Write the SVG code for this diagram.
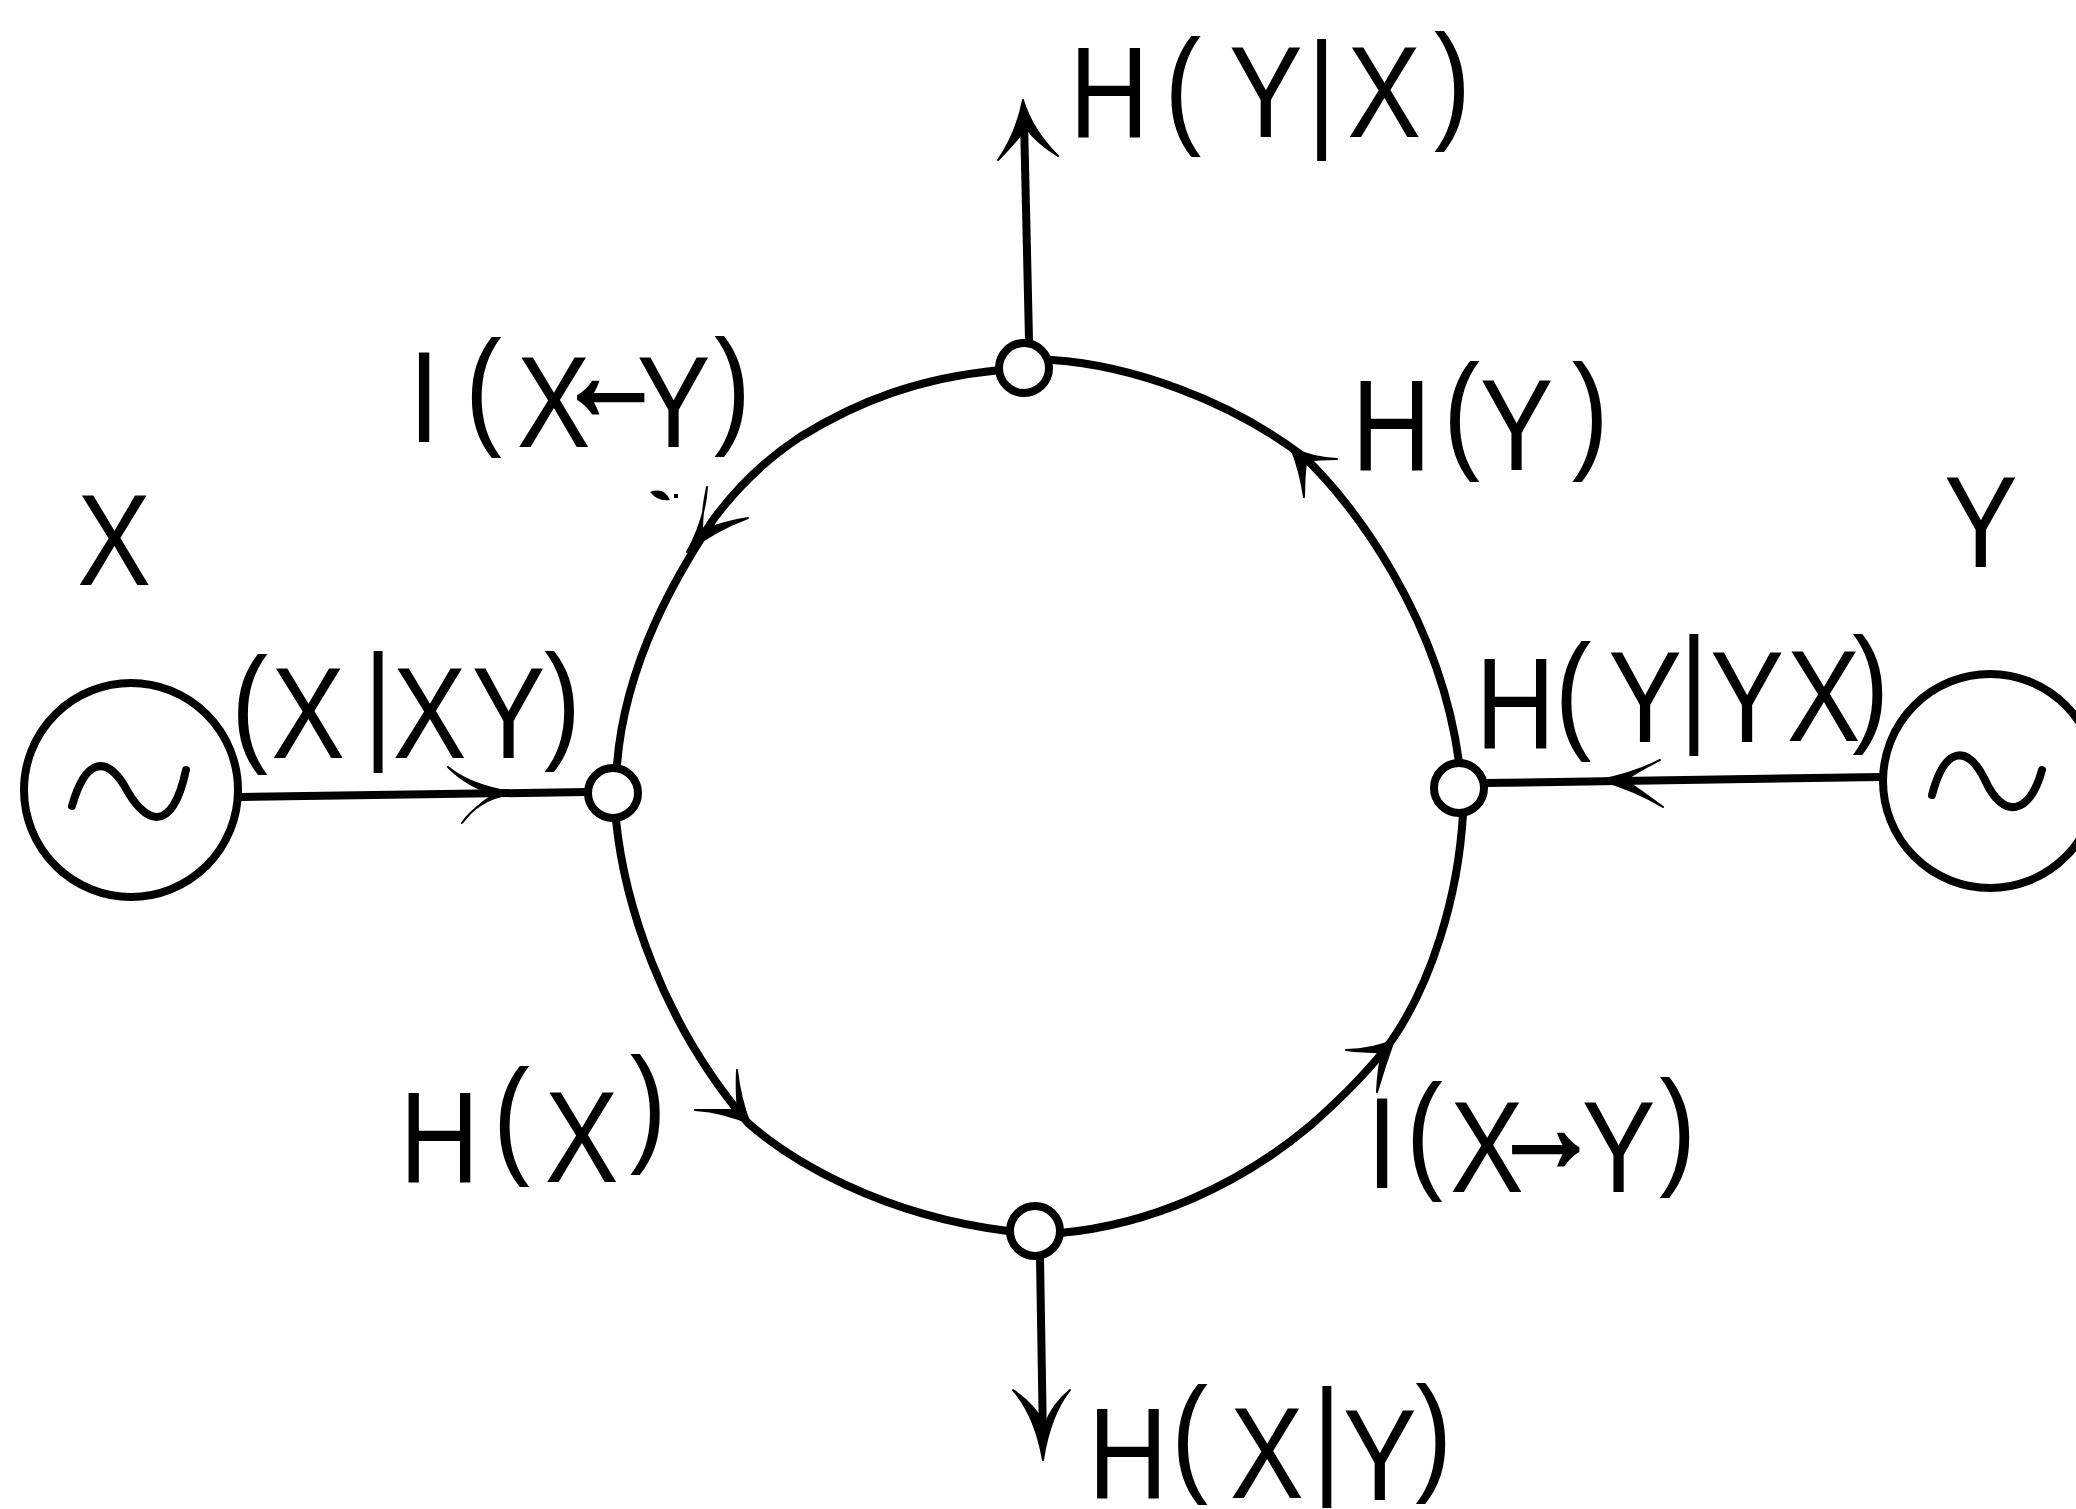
<svg xmlns="http://www.w3.org/2000/svg" width="2076" height="1509" viewBox="0 0 2076 1509">
<style>
.c{fill:none;stroke:#000;stroke-width:8;stroke-linecap:round;stroke-linejoin:round}
.w{fill:#000;stroke:#000;stroke-width:2;stroke-linejoin:round}
.n{fill:#fff;stroke:#000;stroke-width:8}
text{font-family:"Liberation Sans",Arial,sans-serif;font-size:130px;fill:#000}
.a{font-size:127px;stroke:#000;stroke-width:4px}
</style>
<rect width="2076" height="1509" fill="#fff"/>
<g id="connectors">
<path class="c" d="M1029 340L1024 120"/>
<path class="w" d="M998 160Q1016 135 1023 100Q1032 130 1058 156Q1037 143 1026 128Q1015 143 998 160z"/>
<path class="c" d="M1052 360C1130 365 1230 400 1304 457C1355 505 1440 620 1459 762"/>
<path class="w" d="M1337 459Q1312 458 1291 448Q1300 470 1304 497Q1304 478 1306 461Q1320 459 1337 459z"/>
<path class="c" d="M1000 370C920 378 860 400 800 437C765 460 735 490 713 520C680 570 625 660 617 765"/>
<path class="w" d="M707 487Q705 520 687 552Q715 530 748 518Q722 522 702 531Q702 510 707 487z"/>
<path class="c" d="M616 820C624 900 660 1020 748 1123C790 1160 880 1215 1008 1231"/>
<path class="w" d="M695 1110Q725 1112 750 1124Q740 1098 737 1070Q736 1092 738 1110Q718 1110 695 1110z"/>
<path class="c" d="M1060 1233C1150 1225 1240 1185 1311 1125C1345 1095 1370 1070 1392 1040C1430 985 1458 900 1463 814"/>
<path class="w" d="M1346 1050Q1372 1050 1394 1040Q1385 1065 1377 1092Q1378 1070 1382 1052Q1362 1052 1346 1050z"/>
<path class="c" d="M1040 1258L1043 1440"/>
<path class="w" d="M1013 1390Q1035 1415 1043 1460Q1050 1415 1070 1390Q1052 1405 1045 1425Q1035 1405 1013 1390z"/>
<path class="c" d="M240 797L587 792"/>
<path class="w" d="M448 767Q470 786 517 793Q480 797 462 823Q475 806 495 794Q468 787 448 767z"/>
<path class="c" d="M1485 783L1880 777"/>
<path class="w" d="M1660 760Q1635 773 1600 780Q1635 790 1663 807Q1640 790 1625 780Q1640 770 1660 760z"/>
</g>
<g id="node-top"><circle class="n" cx="1024" cy="368" r="25"/></g>
<g id="node-left"><circle class="n" cx="613" cy="793" r="25"/></g>
<g id="node-right"><circle class="n" cx="1459" cy="788" r="25"/></g>
<g id="node-bottom"><circle class="n" cx="1035" cy="1231" r="25"/></g>
<g id="source-x"><circle class="c" cx="131" cy="790" r="107"/><path class="c" d="M72 806C85 760 105 755 124 785C145 825 172 835 186 770"/><text transform="scale(.85 1)" x="91" y="585">X</text></g>
<g id="source-y"><circle class="c" cx="1990" cy="781" r="107"/><path class="c" d="M1932 795C1945 745 1968 745 1985 780C2003 820 2030 815 2042 770"/><text transform="scale(.85 1)" x="2287" y="567">Y</text></g>
<g id="labels">
<text transform="scale(.85 1)" x="1258 1370 1446 1538 1585 1687" y="137 130 137 133 137 125">H(Y|X)</text>
<text transform="scale(.85 1)" x="481 547 608" y="442 431 447">I(X<tspan class="a" x="655" y="419">←</tspan><tspan x="749 840" y="447 430">Y)</tspan></text>
<text transform="scale(.85 1)" x="1590 1698 1741 1849" y="470 455 470 455">H(Y)</text>
<text transform="scale(.85 1)" x="272 319 428 462 555 640" y="748 758 745 758 758 745">(X|XY)</text>
<text transform="scale(.85 1)" x="1736 1829 1892 1976 2012 2102 2179" y="748 735 742 728 742 741 728">H(Y|YX)</text>
<text transform="scale(.85 1)" x="470 580 641 741" y="1182 1160 1182 1148">H(X)</text>
<text transform="scale(.85 1)" x="1608 1654 1706" y="1188 1175 1192">I(X<tspan class="a" x="1755" y="1171">→</tspan><tspan x="1861 1952" y="1192 1171">Y)</tspan></text>
<text transform="scale(.85 1)" x="1280 1378 1447 1544 1580 1665" y="1498 1478 1498 1480 1500 1477">H(X|Y)</text>
</g>
<path d="M650 492q14 -5 20 8q-12 2 -20 -8zM674 494h4v4h-4z" fill="#000"/>
</svg>
